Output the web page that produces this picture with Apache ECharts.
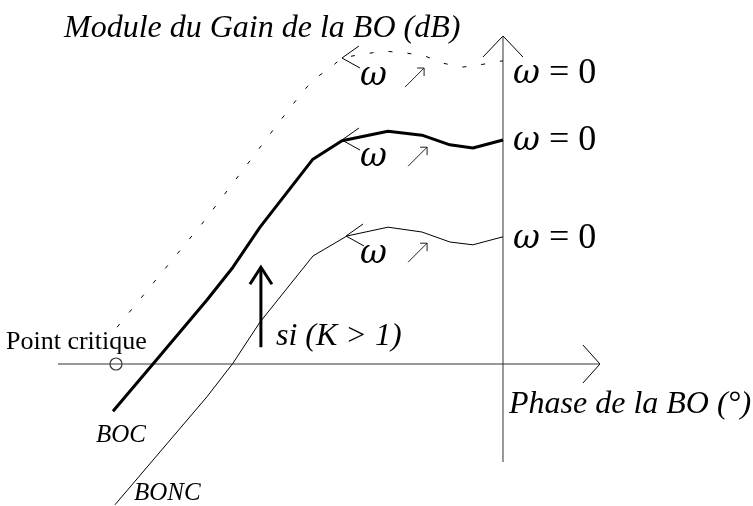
<!DOCTYPE html>
<html>
<head>
<meta charset="utf-8">
<title>Black-Nichols</title>
<script src="https://cdn.jsdelivr.net/npm/echarts@6/dist/echarts.min.js"></script>
<style>
  html, body { margin: 0; padding: 0; background: #fff; }
  #chart { width: 753px; height: 506px; }
</style>
</head>
<body>
<div id="chart"></div>
<script>
// phase (deg) / gain (dB) of the three loci
const bocPhase = [-181.4, -162.8, -137.7, -125.6, -113, -88.4, -74.9, -53.5, -37.7, -24.7, -14, 0];
const bocGain = [-11.8, 0, 16, 24.2, 34.2, 51.2, 55.8, 58.2, 57.2, 54.8, 54, 56];

const boncPhase = [-180.5, -137.7, -125.6, -113, -88.4, -72.6, -53.5, -37.7, -24.7, -14, 0];
const boncGain = [-35.2, -8.2, 0.2, 10.5, 27, 32, 34.2, 33, 30.5, 29.8, 31.8];

const highPhase = [-179.5, -138.6, -116.3, -105.1, -94.4, -88.4, -80.5, -74.9, -65.1, -54.9, -45.6, -36.3, -27.9, -19.1, -10.7, 0];
const highGain = [9.2, 36, 51.8, 59.8, 67.2, 71, 74, 76.5, 77.5, 78.2, 77.8, 77, 75.2, 74.2, 74.8, 75.8];

// axes extent
const phaseAxis = [-207, 45.1];
const gainAxis = [-24.5, 82];
const criticalPoint = [-180, 0];

// "omega increases" markers on each locus (tip of the chevron, tip of the small arrow)
const chevronTips = [[-74.9, 76.5], [-74.9, 56], [-73, 32]];
const omegaArrowTips = [[-36.7, 74], [-35.3, 54.2], [-35.3, 30.2]];
// K > 1 arrow
const kArrowPhase = -112.6;
const kArrowGain = [4.2, 24.2];

const zip = (a, b) => a.map((v, i) => [v, b[i]]);

function chevrons(tips, wings, lw) {
  return {
    type: 'custom',
    silent: true,
    data: tips,
    renderItem: function (params, api) {
      const p = api.coord([api.value(0), api.value(1)]);
      return {
        type: 'polyline',
        shape: { points: [[p[0] + wings[0][0], p[1] + wings[0][1]], p, [p[0] + wings[1][0], p[1] + wings[1][1]]] },
        style: { stroke: '#000', lineWidth: lw, fill: 'none' }
      };
    }
  };
}

const chart = echarts.init(document.getElementById('chart'));
const serif = '"Liberation Serif", "Times New Roman", serif';
const omegaFont = 'italic 33px "DejaVu Serif", serif';

function label(x, y, text, font) {
  return { type: 'text', x: x, y: y, style: { text: text, font: font, fill: '#000', verticalAlign: 'middle' } };
}
function omegaZero(y) {
  return {
    type: 'text', x: 513, y: y,
    style: {
      text: '{w|ω} {e|= 0}', font: '36px ' + serif, fill: '#000', verticalAlign: 'middle',
      rich: { w: { font: omegaFont }, e: { font: '36px ' + serif } }
    }
  };
}

chart.setOption({
  animation: false,
  backgroundColor: '#fff',
  grid: { left: 0, right: 0, top: 0, bottom: 0 },
  xAxis: { type: 'value', min: -233.953, max: 116.279, show: false },
  yAxis: { type: 'value', min: -35.5, max: 91, show: false },
  series: [
    // axes
    {
      type: 'line', symbol: 'none', silent: true,
      data: [[phaseAxis[0], 0], [phaseAxis[1], 0]],
      lineStyle: { color: '#333', width: 1 }
    },
    {
      type: 'line', symbol: 'none', silent: true,
      data: [[0, gainAxis[0]], [0, gainAxis[1]]],
      lineStyle: { color: '#333', width: 1 }
    },
    chevrons([[phaseAxis[1], 0]], [[-17, -19], [-17, 19]], 1),
    chevrons([[0, gainAxis[1]]], [[-20, 21], [20, 21]], 1),
    // loci
    {
      type: 'line', symbol: 'none', silent: true,
      data: zip(highPhase, highGain),
      lineStyle: { color: '#000', width: 1, type: [4, 15] }
    },
    {
      type: 'line', symbol: 'none', silent: true,
      data: zip(bocPhase, bocGain),
      lineStyle: { color: '#000', width: 3 }
    },
    {
      type: 'line', symbol: 'none', silent: true,
      data: zip(boncPhase, boncGain),
      lineStyle: { color: '#000', width: 1 }
    },
    chevrons(chevronTips, [[17, -12], [18, 10]], 1),
    // small diagonal arrows
    {
      type: 'custom', silent: true,
      data: omegaArrowTips,
      renderItem: function (params, api) {
        const p = api.coord([api.value(0), api.value(1)]);
        const st = { stroke: '#222', lineWidth: 1, fill: 'none' };
        return {
          type: 'group',
          children: [
            { type: 'line', shape: { x1: p[0] - 19, y1: p[1] + 19, x2: p[0], y2: p[1] }, style: st },
            { type: 'polyline', shape: { points: [[p[0] - 7, p[1]], p, [p[0], p[1] + 8]] }, style: st }
          ]
        };
      }
    },
    // K > 1 arrow
    {
      type: 'line', symbol: 'none', silent: true,
      data: [[kArrowPhase, kArrowGain[0]], [kArrowPhase, kArrowGain[1]]],
      lineStyle: { color: '#000', width: 3 }
    },
    chevrons([[kArrowPhase, kArrowGain[1]]], [[-11, 17], [11, 17]], 3),
    // critical point
    {
      type: 'scatter', silent: true,
      data: [criticalPoint],
      symbol: 'circle', symbolSize: 12,
      itemStyle: { color: '#fff', borderColor: '#000', borderWidth: 1.2 }
    }
  ],
  graphic: [
    label(64, 29, 'Module du Gain de la BO (dB)', 'italic 32px ' + serif),
    label(509, 405, 'Phase de la BO (°)', 'italic 32px ' + serif),
    label(276, 337, 'si (K > 1)', 'italic 32px ' + serif),
    label(6, 342, 'Point critique', '26px ' + serif),
    label(96, 435, 'BOC', 'italic 25px ' + serif),
    label(134, 493, 'BONC', 'italic 25px ' + serif),
    label(360, 76, 'ω', omegaFont),
    label(360, 157, 'ω', omegaFont),
    label(360, 254, 'ω', omegaFont),
    omegaZero(74),
    omegaZero(141),
    omegaZero(239)
  ]
});
</script>
</body>
</html>
